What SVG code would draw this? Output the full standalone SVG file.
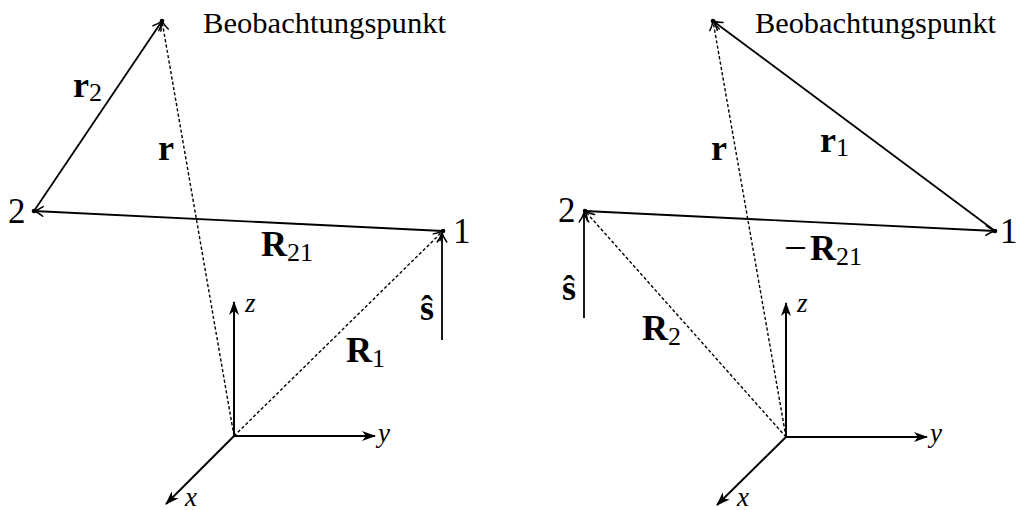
<svg xmlns="http://www.w3.org/2000/svg" width="1017" height="510" viewBox="0 0 1017 510">
<style>
text{font-family:"Liberation Serif","DejaVu Serif",serif;fill:#000}
.t{font-size:29px}
.num{font-size:35px}
.b{font-weight:bold;font-size:36px}
.sub{font-size:26px;font-weight:normal}
.ax{font-style:italic;font-size:27px}
.sol{stroke:#000;stroke-width:1.8;fill:none}
.dash{stroke:#000;stroke-width:1.4;stroke-dasharray:3.2 2.2;fill:none}
.axis{stroke:#000;stroke-width:2;fill:none}
.dot{fill:#000}
</style>
<defs>
<marker id="ah" markerUnits="userSpaceOnUse" markerWidth="24" markerHeight="24" viewBox="-12 -12 24 24" refX="0" refY="0" orient="auto" overflow="visible">
<path d="M-9,-4.8 C-6,-2.6 -2,-0.7 0,0 C-2,0.7 -6,2.6 -9,4.8" fill="none" stroke="#000" stroke-width="1.5" stroke-linecap="round"/>
</marker>
<marker id="st" markerUnits="userSpaceOnUse" markerWidth="30" markerHeight="30" viewBox="-15 -15 30 30" refX="0" refY="0" orient="auto" overflow="visible">
<path d="M1,0 L-13,-5 L-9,0 L-13,5 Z" fill="#000" stroke="none"/>
</marker>
</defs>

<g id="connectors">
<!-- left diagram -->
<line class="sol" x1="34" y1="211" x2="162" y2="21" marker-end="url(#ah)"/>
<line class="sol" x1="443" y1="231" x2="34" y2="211" marker-end="url(#ah)"/>
<line class="dash" x1="234" y1="436" x2="162" y2="21" marker-end="url(#ah)"/>
<line class="dash" x1="234" y1="436" x2="443" y2="231" marker-end="url(#ah)"/>
<line class="sol" x1="442" y1="340" x2="442" y2="233" marker-end="url(#ah)"/>
<!-- right diagram -->
<line class="sol" x1="995" y1="231" x2="713" y2="21" marker-end="url(#ah)"/>
<line class="sol" x1="585" y1="211" x2="995" y2="231" marker-end="url(#ah)"/>
<line class="dash" x1="786" y1="437" x2="713" y2="21" marker-end="url(#ah)"/>
<line class="dash" x1="786" y1="437" x2="585" y2="211" marker-end="url(#ah)"/>
<line class="sol" x1="584" y1="318" x2="584" y2="213" marker-end="url(#ah)"/>
</g>

<g id="axes-left">
<line class="axis" x1="234" y1="436" x2="234" y2="302" marker-end="url(#st)"/>
<line class="axis" x1="234" y1="436" x2="375" y2="436" marker-end="url(#st)"/>
<line class="axis" x1="234" y1="436" x2="166" y2="504" marker-end="url(#st)"/>
<text class="ax" x="245" y="312">z</text>
<text class="ax" x="378" y="442">y</text>
<text class="ax" x="185" y="506">x</text>
</g>

<g id="axes-right">
<line class="axis" x1="786" y1="437" x2="786" y2="303" marker-end="url(#st)"/>
<line class="axis" x1="786" y1="437" x2="927" y2="437" marker-end="url(#st)"/>
<line class="axis" x1="786" y1="437" x2="717" y2="505" marker-end="url(#st)"/>
<text class="ax" x="797" y="312">z</text>
<text class="ax" x="930" y="442">y</text>
<text class="ax" x="737" y="506">x</text>
</g>

<g id="point-P-left">
<circle class="dot" cx="162" cy="21" r="2.3"/>
<text class="t" x="203" y="33" textLength="243" lengthAdjust="spacingAndGlyphs">Beobachtungspunkt</text>
</g>
<g id="point-2-left">
<circle class="dot" cx="34" cy="211" r="2.3"/>
<text class="num" x="8" y="223">2</text>
</g>
<g id="point-1-left">
<circle class="dot" cx="443" cy="231" r="2.3"/>
<text class="num" x="453" y="243">1</text>
</g>

<g id="labels-left">
<text class="b" x="73" y="97">r<tspan class="sub" dy="4">2</tspan></text>
<text class="b" x="158" y="160">r</text>
<text class="b" x="261" y="256">R<tspan class="sub" dy="5">21</tspan></text>
<text class="b" x="420" y="320" font-size="34">ŝ</text>
<text class="b" x="346" y="362">R<tspan class="sub" dy="5">1</tspan></text>
</g>

<g id="point-P-right">
<circle class="dot" cx="713" cy="21" r="2.3"/>
<text class="t" x="755" y="33" textLength="241" lengthAdjust="spacingAndGlyphs">Beobachtungspunkt</text>
</g>
<g id="point-2-right">
<circle class="dot" cx="585" cy="211" r="2.3"/>
<text class="num" x="558" y="222">2</text>
</g>
<g id="point-1-right">
<circle class="dot" cx="995" cy="231" r="2.3"/>
<text class="num" x="1000" y="243">1</text>
</g>

<g id="labels-right">
<text class="b" x="711" y="160">r</text>
<text class="b" x="820" y="152">r<tspan class="sub" dy="4">1</tspan></text>
<text x="784" y="261" font-size="40" textLength="23" lengthAdjust="spacingAndGlyphs">−</text>
<text class="b" x="810" y="260">R<tspan class="sub" dy="5">21</tspan></text>
<text class="b" x="562" y="300" font-size="34">ŝ</text>
<text class="b" x="642" y="340">R<tspan class="sub" dy="5">2</tspan></text>
</g>
</svg>
